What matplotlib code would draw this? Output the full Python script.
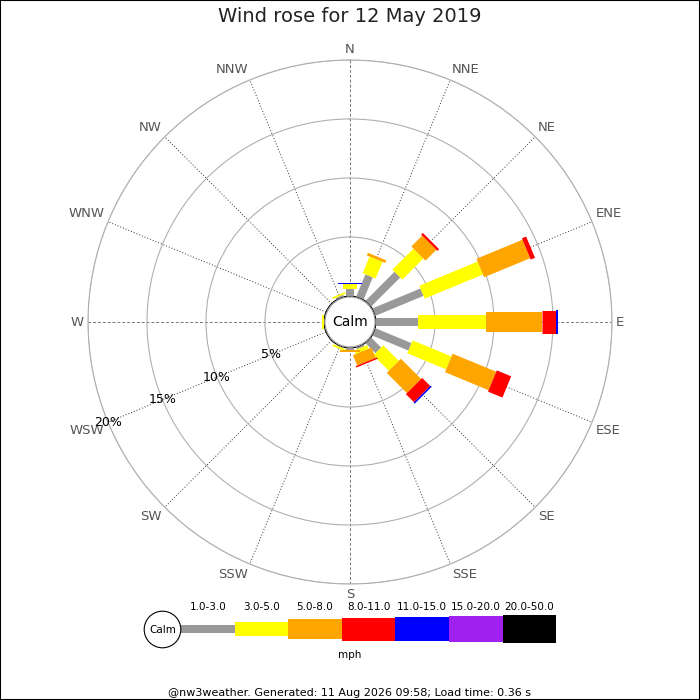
import numpy as np
import matplotlib
matplotlib.use("Agg")
import matplotlib.pyplot as plt
from matplotlib.patches import Circle, Rectangle

# data (% of the day per direction and speed band)
directions = ["N", "NNE", "NE", "ENE", "E", "ESE", "SE", "SSE",
              "S", "SSW", "SW", "WSW", "W", "WNW", "NW", "NNW"]
speed_bins = ["1.0-3.0", "3.0-5.0", "5.0-8.0", "8.0-11.0",
              "11.0-15.0", "15.0-20.0", "20.0-50.0"]
bin_colours = ["#999999", "#ffff00", "#ffa500", "#ff0000",
               "#0000ff", "#a020f0", "#000000"]
bin_widths_px = [8, 14, 20, 23, 24, 26, 28]

pct_1_3 = [0.59, 2.03, 3.47, 4.40, 3.56, 3.30, 1.19, 0.17, 0.13, 0.08, 0, 0, 0.02, 0, 0, 0.15]
pct_3_5 = [0.43, 1.53, 2.53, 5.35, 5.76, 3.56, 1.86, 0.33, 0.07, 0.17, 0, 0, 0.13, 0, 0, 0.15]
pct_5_8 = [0, 0.24, 1.30, 4.22, 4.75, 4.00, 2.42, 0.94, 0.10, 0, 0, 0, 0, 0, 0, 0]
pct_8_11 = [0, 0, 0.20, 0.39, 1.18, 1.32, 0.97, 0.13, 0, 0, 0, 0, 0, 0, 0, 0]
pct_11_15 = [0.12, 0, 0, 0, 0.15, 0, 0.13, 0, 0, 0, 0, 0, 0, 0, 0, 0]
pct_15_20 = [0] * 16
pct_20_50 = [0] * 16

ring_values = [5, 10, 15, 20]
ring_labels = ["5%", "10%", "15%", "20%"]

title = "Wind rose for 12 May 2019"
footer = "@nw3weather. Generated: 11 Aug 2026 09:58; Load time: 0.36 s"

series = [pct_1_3, pct_3_5, pct_5_8, pct_8_11, pct_11_15, pct_15_20, pct_20_50]

fig = plt.figure(figsize=(7, 7), dpi=100)
fig.patches.append(Rectangle((0, 0), 1, 1, transform=fig.transFigure,
                             fill=False, ec="black", lw=1.5))

# polar axes: centre (350,322) px, outer ring 262 px, calm circle 26 px
R = 262.0
ax = fig.add_axes([(350 - R) / 700, (700 - 322 - R) / 700, 2 * R / 700, 2 * R / 700],
                  projection="polar")
ax.set_theta_zero_location("N")
ax.set_theta_direction(-1)
ax.set_ylim(0, 20)
ax.set_rorigin(-20 * 26 / (R - 26))
ax.set_xticks([])
ax.set_yticks(ring_values)
ax.set_yticklabels([])
ax.yaxis.grid(True, color="#b0b0b0", lw=0.8, ls="-")
ax.spines["polar"].set_color("#b0b0b0")
ax.spines["polar"].set_linewidth(0.8)

thetas = np.deg2rad(np.arange(16) * 22.5)

for i, th in enumerate(thetas):
    if i % 4 == 0:
        ax.plot([th, th], [0, 20], color="#777777", lw=0.7, ls=(0, (3, 2)), zorder=1)
    else:
        ax.plot([th, th], [0, 20], color="#333333", lw=0.7, ls=(0, (1, 2)), zorder=1)

# stacked bars as radial strokes of fixed pixel width
for i, th in enumerate(thetas):
    base = 0.0
    for k, vals in enumerate(series):
        v = vals[i]
        if v > 0:
            ax.plot([th, th], [base, base + v], color=bin_colours[k],
                    lw=bin_widths_px[k] * 0.72, solid_capstyle="butt", zorder=3 + k * 0.1)
        base += v

# direction labels
lab_r = 20.0 * (266 - 26) / (R - 26)
for d, th in zip(directions, thetas):
    s, c = np.sin(th), np.cos(th)
    ha = "left" if s > 0.1 else ("right" if s < -0.1 else "center")
    va = "bottom" if c > 0.1 else ("top" if c < -0.1 else "center")
    ax.text(th, lab_r, d, ha=ha, va=va, fontsize=9.5, color="#555555", clip_on=False)

# ring labels along WSW
for rv, rl in zip(ring_values, ring_labels):
    ax.text(np.deg2rad(247.5), rv, rl, ha="center", va="center", fontsize=9,
            color="black", zorder=4, clip_on=False)

calm = Circle((0.5, 0.5), 25 / (2 * R), transform=ax.transAxes, fc="white",
              ec="#999999", lw=0.8, zorder=6, clip_on=False)
ax.add_patch(calm)
ax.text(0.5, 0.5, "Calm", transform=ax.transAxes, ha="center", va="center",
        fontsize=10, zorder=7)

fig.text(0.5, 1 - 17 / 700, title, ha="center", va="center", fontsize=14, color="#222222")

# speed legend, in pixel units
leg = fig.add_axes([140 / 700, (700 - 665) / 700, 430 / 700, 75 / 700])
leg.set_xlim(140, 570)
leg.set_ylim(665, 590)
leg.axis("off")
seg = 53.6
lefts = [181 + k * seg for k in range(len(speed_bins))]
heights = np.array(bin_widths_px, dtype=float)
leg.bar(lefts, heights, width=seg, bottom=629 - heights / 2, align="edge",
        color=bin_colours, lw=0)
for x0, lab in zip(lefts, speed_bins):
    leg.text(x0 + seg / 2, 607, lab, ha="center", va="center", fontsize=7.5)
leg.add_patch(Circle((162.5, 629.5), 18.3, fc="white", ec="black", lw=0.8, zorder=5))
leg.text(162.5, 630, "Calm", ha="center", va="center", fontsize=7.5, zorder=6)
leg.text(350, 655, "mph", ha="center", va="center", fontsize=7.5)

fig.text(0.5, 1 - 693 / 700, footer, ha="center", va="center", fontsize=8)

fig.savefig("out.png", dpi=100)
